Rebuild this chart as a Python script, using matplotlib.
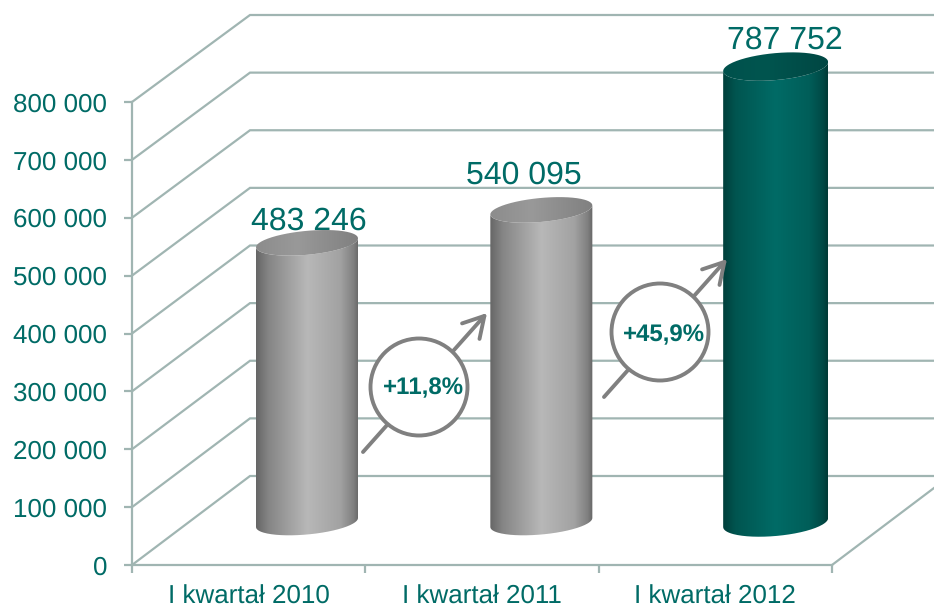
import numpy as np
import matplotlib
matplotlib.use('Agg')
import matplotlib.pyplot as plt
from matplotlib.colors import LinearSegmentedColormap
from matplotlib.patches import Ellipse, PathPatch
from matplotlib.path import Path

plt.rcParams['font.family'] = ['Liberation Sans', 'DejaVu Sans']
plt.rcParams['text.hinting'] = 'no_hinting'
plt.rcParams['text.hinting_factor'] = 1

categories = ['I kwartał 2010', 'I kwartał 2011', 'I kwartał 2012']
values = [483246, 540095, 787752]
value_labels = ['483 246', '540 095', '787 752']
y_ticks = [0, 100000, 200000, 300000, 400000, 500000, 600000, 700000, 800000]
y_tick_labels = ['0', '100 000', '200 000', '300 000', '400 000', '500 000', '600 000', '700 000', '800 000']
growth_labels = ['+11,8%', '+45,9%']

W, H = 934, 609
TEAL = '#006b66'
GRID = '#a0b5b2'
ARROW = '#808080'

fig = plt.figure(figsize=(W / 100, H / 100), dpi=100)
ax = fig.add_axes([132 / W, (H - 565) / H, 700 / W, 463 / H])

# data units per pixel
sx = 3 / 700
sy = 800000 / 463


def px(x, y):
    # picture pixel to data coords, only used for the overlay annotations
    return (x - 132) * sx, (565 - y) * sy


# fake 3d walls
depth_x = 118 * sx
right = 3 + 102 * sx
for v in y_ticks:
    depth_y = (89 - 2 * v / 800000) * sy
    ax.plot([0, depth_x, right], [v, v + depth_y, v + depth_y], color=GRID, lw=1.6,
            clip_on=False, zorder=1, solid_joinstyle='miter')
ax.plot([3, right], [0, 77 * sy], color=GRID, lw=1.6, clip_on=False, zorder=1)

grey_body = LinearSegmentedColormap.from_list('gb', [(0, '#666666'), (0.12, '#858585'), (0.5, '#b8b8b8'),
                                                    (0.82, '#a2a2a2'), (0.95, '#808080'), (1, '#666666')])
grey_top = LinearSegmentedColormap.from_list('gt', [(0, '#8c8c8c'), (0.4, '#999999'), (1, '#808080')])
teal_body = LinearSegmentedColormap.from_list('tb', [(0, '#003f3b'), (0.12, '#005550'), (0.5, '#006b66'),
                                                    (0.82, '#005e59'), (0.95, '#004a46'), (1, '#003a36')])
teal_top = LinearSegmentedColormap.from_list('tt', [(0, '#00514c'), (0.4, '#00554f'), (1, '#004743')])
body_maps = [grey_body, grey_body, teal_body]
top_maps = [grey_top, grey_top, teal_top]
half_widths = [51, 51, 52.5]
cap_heights = [12, 12, 13.5]
label_pos = [(309, 230), (524, 184), (785, 49)]


def ring(cx, cy, a, b, t):
    # sheared ellipse, right side sits higher than the left
    return cx + a * sx * np.cos(t), cy + 4.5 * sy * np.cos(t) + b * sy * np.sin(t)


def gradient(cmap, path, x0, x1, y0, y1):
    im = ax.imshow(np.linspace(0, 1, 256)[None, :], cmap=cmap, aspect='auto',
                   extent=[x0, x1, y0, y1], zorder=3, interpolation='bilinear')
    im.set_clip_box(fig.bbox)
    im.set_clip_path(PathPatch(path, transform=ax.transData))


base = 42.5 * sy
for i, v in enumerate(values):
    cx = i + 0.75 + i * sx
    a = half_widths[i]
    b = cap_heights[i]
    top = v + base
    t = np.linspace(np.pi, 2 * np.pi, 80)
    bx, by = ring(cx, base, a, b, t)
    tx, ty = ring(cx, top, a, b, t[::-1])
    body = Path(np.column_stack([np.r_[bx, tx], np.r_[by, ty]]))
    gradient(body_maps[i], body, cx - a * sx, cx + a * sx, 0, top + 20 * sy)
    t = np.linspace(0, 2 * np.pi, 160)
    ex, ey = ring(cx, top, a, b, t)
    gradient(top_maps[i], Path(np.column_stack([ex, ey])), cx - a * sx, cx + a * sx, top - 20 * sy, top + 20 * sy)
    lx, ly = px(*label_pos[i])
    ax.text(lx, ly, value_labels[i], color=TEAL, fontsize=23, ha='center', va='baseline', zorder=6, clip_on=False)

# growth arrows with the circle on top
arrows = [((363, 452), (487, 313), (419, 387), (424, 388)),
          ((604, 397), (727, 259), (660, 332), (664, 335))]
for i, (start, tip, centre, text_at) in enumerate(arrows):
    ax.annotate('', xy=px(*tip), xytext=px(*start), zorder=4, annotation_clip=False,
                arrowprops=dict(arrowstyle='->,head_length=1.05,head_width=0.6', color=ARROW, lw=2.8,
                                shrinkA=0, shrinkB=0, mutation_scale=14))
    c = Ellipse(px(*centre), 97 * sx, 97 * sy, facecolor='white', edgecolor=ARROW, lw=2.8, zorder=5, clip_on=False)
    ax.add_patch(c)
    tx, ty = px(*text_at)
    ax.text(tx, ty, growth_labels[i], color=TEAL, fontsize=17.5, fontweight='bold',
            ha='center', va='center', zorder=6)

ax.set_xlim(0, 3)
ax.set_ylim(0, 800000)
ax.set_facecolor('none')
for s in ['top', 'right']:
    ax.spines[s].set_visible(False)
for s in ['left', 'bottom']:
    ax.spines[s].set_color(GRID)
    ax.spines[s].set_linewidth(1.6)
    ax.spines[s].set_zorder(2)

ax.set_yticks(y_ticks)
ax.set_yticklabels(y_tick_labels)
ax.set_xticks([0, 1, 2, 3])
ax.set_xticklabels([])
ax.set_xticks([0.5, 1.5, 2.5], minor=True)
ax.set_xticklabels(categories, minor=True)
ax.tick_params(axis='y', length=6, width=1.6, color=GRID, labelcolor=TEAL, labelsize=19, pad=12)
ax.tick_params(axis='x', which='major', length=6, width=1.6, color=GRID)
ax.tick_params(axis='x', which='minor', length=0, labelcolor=TEAL, labelsize=19, pad=14)

fig.savefig('out.png', dpi=100)
